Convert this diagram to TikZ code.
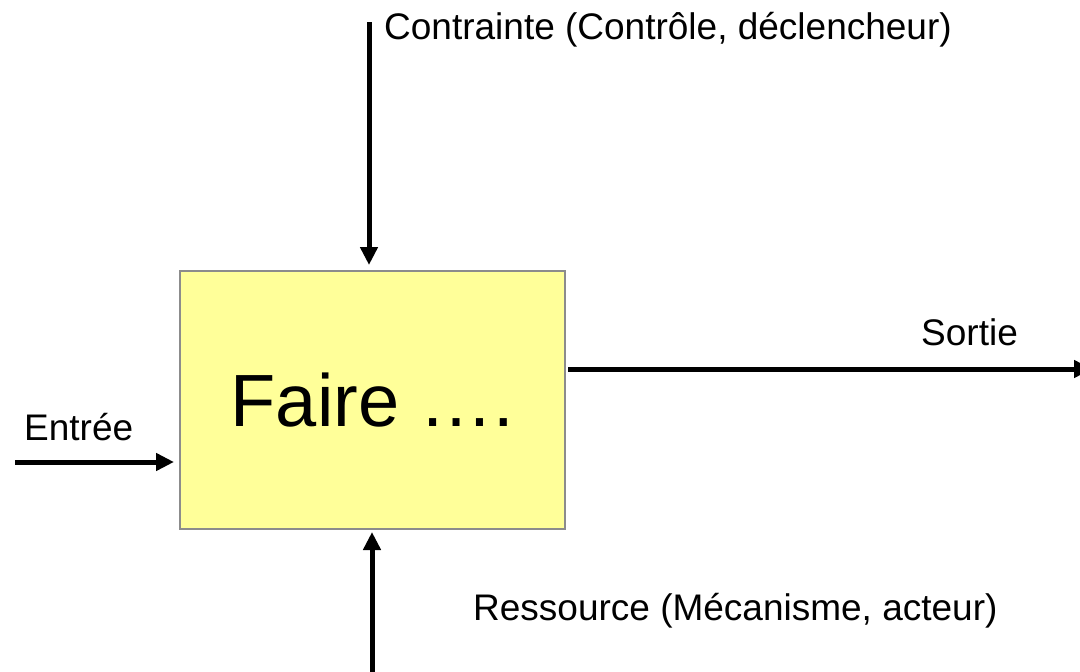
\documentclass[tikz,border=0pt]{standalone}
\usepackage{fontspec}
\setmainfont{Liberation Sans}
\usetikzlibrary{arrows.meta}
\definecolor{boxfill}{HTML}{FFFF99}
\definecolor{boxline}{HTML}{8C8C8C}
\begin{document}
\begin{tikzpicture}[x=1pt,y=-1pt,
  flow/.style={line width=5pt,-{Triangle[length=18pt,width=17pt]}},
  lbl/.style={inner sep=0pt,anchor=base west,font=\fontsize{37}{42}\selectfont}]
\useasboundingbox (0,0) rectangle (1080,672);
% activity box
\node[draw=boxline,line width=2pt,fill=boxfill,minimum width=385pt,minimum height=258pt,
      inner sep=0pt,font=\fontsize{74}{80}\selectfont] (act) at (372.5,400) {Faire ….};
% free ends of the four flows
\coordinate (ctl) at (369,22);
\coordinate (res) at (372,672);
\coordinate (inp) at (15,462);
\coordinate (out) at (1092,369);
% flows
\draw[flow,shorten >=5pt] (ctl) -- (ctl |- act.north);
\draw[flow,shorten >=2pt] (res) -- (res |- act.south);
\draw[flow,shorten >=5pt] (inp) -- (inp -| act.west);
\draw[flow] (out -| act.east) ++(2,0) -- (out);
% labels
\node[lbl] (lctl) at (384,39) {Contrainte (Contrôle, déclencheur)};
\node[lbl] (lout) at (921,345) {Sortie};
\node[lbl] (linp) at (24,440) {Entrée};
\node[lbl] (lres) at (473,620) {Ressource (Mécanisme, acteur)};
\end{tikzpicture}
\end{document}
